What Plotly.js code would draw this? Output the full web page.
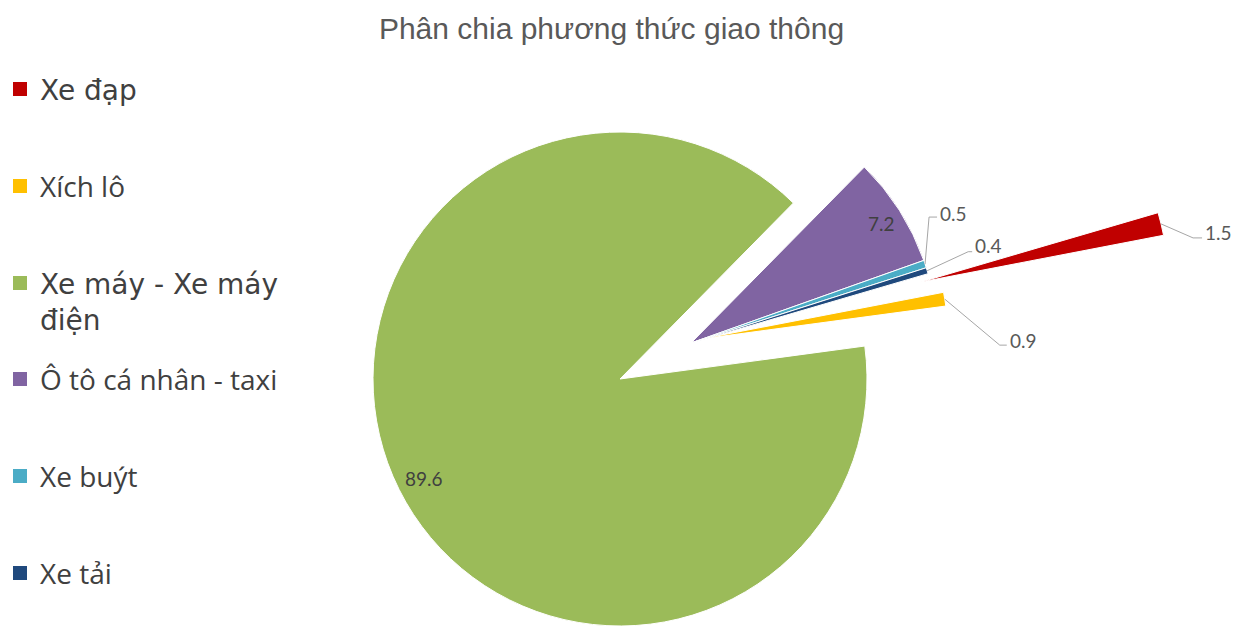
<!DOCTYPE html>
<html><head><meta charset="utf-8">
<script src="https://cdn.plot.ly/plotly-3.0.1.min.js"></script>
<style>html,body{margin:0;padding:0;background:#fff}#chart{width:1239px;height:627px}</style>
</head><body><div id="chart"></div>
<script>
// ---- data ----
const categories = ['Xe đạp', 'Xích lô', 'Xe máy - Xe máy điện', 'Ô tô cá nhân - taxi', 'Xe buýt', 'Xe tải'];
const legendNames = ['Xe đạp', 'Xích lô', 'Xe máy - Xe máy<br>điện', 'Ô tô cá nhân - taxi', 'Xe buýt', 'Xe tải'];
const values = [1.5, 0.9, 89.6, 7.2, 0.5, 0.4];
const sliceColors = ['#C00000', '#FFC000', '#9BBB59', '#8064A2', '#4BACC6', '#1F497D'];

// ---- layout config (geometry / styling only) ----
const W = 1239, H = 627;
const R = 247;                 // pie radius in px
const ROTATION = 73.7;         // start angle of first slice (deg clockwise from 12 o'clock)
const CENTER = [620, 379];     // pie centre in px
// explosion offset of every slice (px)
const EXPLODE = [[301, -97], [81, -40], [0, 0], [71, -36], [71, -36], [71, -36]];
const INSIDE = [2, 3];         // slices labelled inside
const LABEL_R = 0.9;
// leader lines for outside labels: offsets from slice outer point
const LEADERS = {
  0: {elbow: [32, 14], end: [41, 14], text: [42, 9]},
  1: {elbow: [55, 46], end: [62, 46], text: [63, 41]},
  4: {elbow: [4, -47], end: [12, -47], text: [13, -51]},
  5: {elbow: [41, -19], end: [45, -19], text: [46, -25]}
};
const LEGEND_FONT = 28;
const LEGEND_STEP = 97;
const WIDE_FONT_ITEMS = [0, 2];  // legend entries rendered in the wider fallback face

const total = values.reduce((a, b) => a + b, 0);
const toPX = (px) => px / W, toPY = (py) => 1 - py / H;
const rad = (d) => d * Math.PI / 180;

// mid-angle of each slice
const mids = [];
let acc = 0;
values.forEach((v) => {
  const a0 = ROTATION + 360 * acc / total;
  const a1 = ROTATION + 360 * (acc + v) / total;
  mids.push((a0 + a1) / 2);
  acc += v;
});

const traces = [];
// group slices by explosion offset -> one pie trace per group
const groups = {};
EXPLODE.forEach((off, i) => {
  const k = off.join(',');
  (groups[k] = groups[k] || {off: off, members: []}).members.push(i);
});
const apexOf = (i) => [CENTER[0] + EXPLODE[i][0], CENTER[1] + EXPLODE[i][1]];

Object.values(groups).forEach((g) => {
  const ax = CENTER[0] + g.off[0], ay = CENTER[1] + g.off[1];
  traces.push({
    type: 'pie',
    values: values,
    labels: categories,
    sort: false,
    direction: 'clockwise',
    rotation: ROTATION,
    marker: {
      colors: categories.map((c, j) => g.members.includes(j) ? sliceColors[j] : 'rgba(0,0,0,0)'),
      line: {color: '#ffffff', width: categories.map((c, j) => g.members.includes(j) ? 1 : 0)}
    },
    textinfo: 'none',
    hoverinfo: 'label+value',
    showlegend: false,
    domain: {x: [toPX(ax - R), toPX(ax + R)], y: [toPY(ay + R), toPY(ay - R)]}
  });
});

// legend entries
categories.forEach((c, i) => {
  const nm = WIDE_FONT_ITEMS.includes(i)
    ? legendNames[i].split('<br>').map((s) => '<span style="font-family:DejaVu Sans">' + s + '</span>').join('<br>')
    : legendNames[i];
  traces.push({
    type: 'scatter', x: [null], y: [null], mode: 'markers',
    name: nm,
    marker: {symbol: 'square', size: 14, color: sliceColors[i]},
    legendgroup: 'g' + i,
    legend: i < 3 ? 'legend' : 'legend2',
    hoverinfo: 'skip'
  });
});

// data labels
const annotations = [];
const shapes = [];
values.forEach((v, i) => {
  const [ax, ay] = apexOf(i);
  const m = rad(mids[i]);
  if (INSIDE.includes(i)) {
    const px = ax + LABEL_R * R * Math.sin(m), py = ay - LABEL_R * R * Math.cos(m);
    annotations.push({x: toPX(px + 3), y: toPY(py), xref: 'paper', yref: 'paper', showarrow: false,
      text: String(v), font: {family: 'Lato', size: 19, color: '#404040'}, xanchor: 'center', yanchor: 'middle'});
  } else {
    const L = LEADERS[i];
    const ox = ax + R * Math.sin(m), oy = ay - R * Math.cos(m);
    const e = [ox + L.elbow[0], oy + L.elbow[1]], f = [ox + L.end[0], oy + L.end[1]];
    shapes.push({type: 'path', xref: 'paper', yref: 'paper',
      path: 'M' + toPX(ox) + ',' + toPY(oy) + ' L' + toPX(e[0]) + ',' + toPY(e[1]) + ' L' + toPX(f[0]) + ',' + toPY(f[1]),
      line: {color: '#A6A6A6', width: 1}});
    annotations.push({x: toPX(ox + L.text[0]), y: toPY(oy + L.text[1]), xref: 'paper', yref: 'paper', showarrow: false,
      text: String(v), font: {family: 'Lato', size: 19, color: '#595959'}, xanchor: 'left', yanchor: 'middle'});
  }
});

const itemH = LEGEND_FONT * 1.3 + 3;
const legendBase = {
  x: 0, xanchor: 'left', yanchor: 'top', traceorder: 'grouped', tracegroupgap: LEGEND_STEP - itemH, valign: 'top',
  font: {family: 'Open Sans', size: LEGEND_FONT, color: '#404040'}, bgcolor: 'rgba(0,0,0,0)', itemclick: false, itemdoubleclick: false
};
const firstTop = (centerY) => centerY - 5 - itemH / 2 - 1;

const layout = {
  width: W, height: H,
  margin: {l: 0, r: 0, t: 0, b: 0, autoexpand: false},
  paper_bgcolor: '#ffffff', plot_bgcolor: '#ffffff',
  title: {text: 'Phân chia phương thức giao thông', x: 611.5 / W, xanchor: 'center', y: 1 - 28 / H, yanchor: 'middle',
    xref: 'paper', yref: 'container', font: {family: 'Liberation Sans, Arial, sans-serif', size: 30, color: '#595959'}},
  xaxis: {visible: false}, yaxis: {visible: false},
  legend: Object.assign({}, legendBase, {y: toPY(firstTop(90))}),
  legend2: Object.assign({}, legendBase, {y: toPY(firstTop(380))}),
  annotations: annotations,
  shapes: shapes
};

Plotly.newPlot('chart', traces, layout, {displayModeBar: false});
</script>
</body></html>
